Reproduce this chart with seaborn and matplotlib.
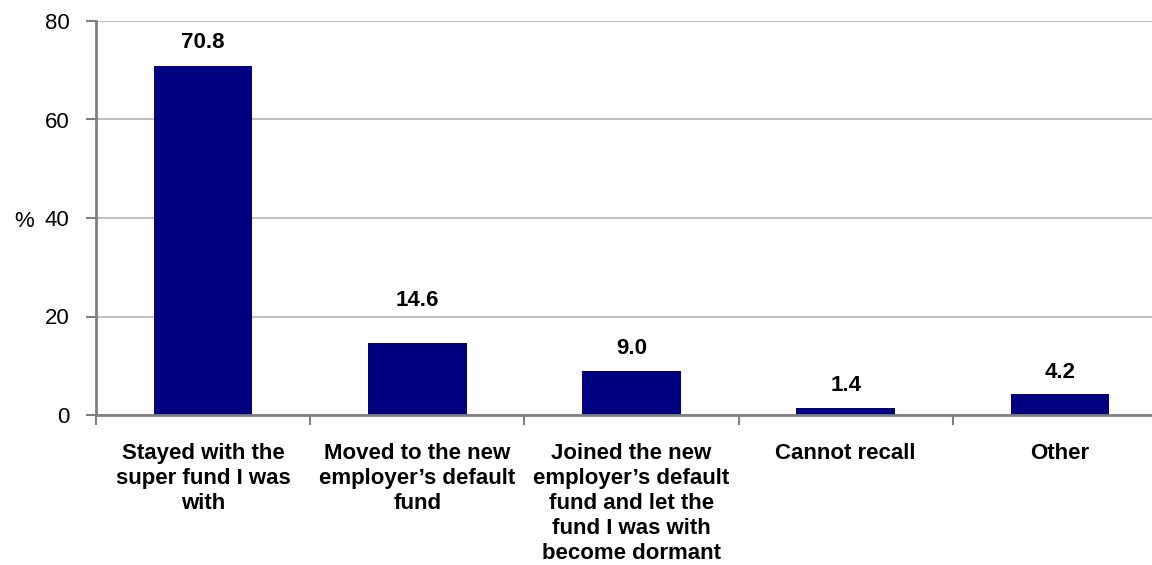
import matplotlib
matplotlib.use("Agg")
import matplotlib.pyplot as plt
import seaborn as sns
import pandas as pd
from matplotlib.ticker import FixedLocator, MultipleLocator

# Survey responses: what people did with their super when changing jobs
categories = [
    "Stayed with the\nsuper fund I was\nwith",
    "Moved to the new\nemployer\u2019s default\nfund",
    "Joined the new\nemployer\u2019s default\nfund and let the\nfund I was with\nbecome dormant",
    "Cannot recall",
    "Other",
]
values = [70.8, 14.6, 9.0, 1.4, 4.2]
y_ticks = [0, 20, 40, 60, 80]

sns.set_theme(style="white")
plt.rcParams["font.family"] = ["Liberation Sans", "DejaVu Sans"]

df = pd.DataFrame({"category": categories, "pct": values})

W, H, DPI = 1152, 565, 100
fig = plt.figure(figsize=(W / DPI, H / DPI), dpi=DPI)
left, right = 96 / W, 1167 / W
bottom, top = 1 - 415 / H, 1 - 21 / H
ax = fig.add_axes([left, bottom, right - left, top - bottom])

sns.barplot(data=df, x="category", y="pct", color="#000080", saturation=1,
            width=0.46, ax=ax, edgecolor="none")

ax.set_xlim(-0.5, len(categories) - 0.5)
ax.set_ylim(0, 80)
ax.yaxis.set_major_locator(FixedLocator(y_ticks))
ax.grid(axis="y", color="#c0c0c0", linewidth=1.5)
ax.set_axisbelow(True)

for side in ["top", "right"]:
    ax.spines[side].set_visible(False)
for side in ["left", "bottom"]:
    ax.spines[side].set_color("#808080")
    ax.spines[side].set_linewidth(2)

# value labels above bars (the second one sits a little higher)
label_pads = [9.5, 23, 8.5, 8.5, 8.5]
bars = ax.containers[0]
for rect, val, pad in zip(bars, values, label_pads):
    ax.annotate(f"{val:.1f}", (rect.get_x() + rect.get_width() / 2, rect.get_height()),
                xytext=(0, pad), textcoords="offset points", ha="center", va="bottom",
                fontsize=16, fontweight="bold", color="black")

# y-axis ticks
ax.tick_params(axis="y", which="major", left=True, length=7, width=1.5,
               color="#808080", labelsize=16, pad=12, labelcolor="black")

# x-axis: category labels without tick marks, ticks at category boundaries
ax.tick_params(axis="x", which="major", bottom=False, length=0, labelsize=16,
               pad=20, labelcolor="black")
ax.xaxis.set_minor_locator(MultipleLocator(1, offset=0.5))
ax.tick_params(axis="x", which="minor", bottom=True, length=7, width=1.5,
               color="#808080")
for lbl in ax.get_xticklabels():
    lbl.set_fontweight("bold")
    lbl.set_linespacing(1.26)
    lbl.set_va("top")
    lbl.set_ha("center")

ax.set_xlabel("")
ax.set_ylabel("%", rotation=0, fontsize=16, color="black", va="center", ha="center")
ax.yaxis.set_label_coords(-0.067, 0.492)

fig.savefig("out.png", dpi=DPI)
